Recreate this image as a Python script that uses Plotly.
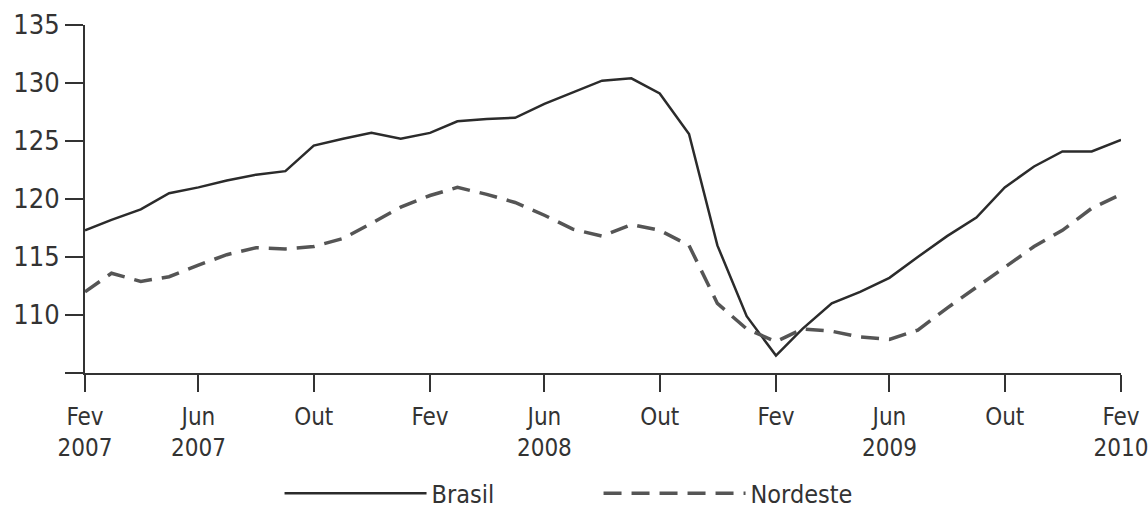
import plotly.graph_objects as go

months = [
    "2007-02-01", "2007-03-01", "2007-04-01", "2007-05-01", "2007-06-01", "2007-07-01",
    "2007-08-01", "2007-09-01", "2007-10-01", "2007-11-01", "2007-12-01", "2008-01-01",
    "2008-02-01", "2008-03-01", "2008-04-01", "2008-05-01", "2008-06-01", "2008-07-01",
    "2008-08-01", "2008-09-01", "2008-10-01", "2008-11-01", "2008-12-01", "2009-01-01",
    "2009-02-01", "2009-03-01", "2009-04-01", "2009-05-01", "2009-06-01", "2009-07-01",
    "2009-08-01", "2009-09-01", "2009-10-01", "2009-11-01", "2009-12-01", "2010-01-01",
    "2010-02-01",
]

brasil = [
    117.3, 118.2, 119.1, 120.5, 121.0, 121.6, 122.1, 122.4, 124.6, 125.2, 125.7, 125.2,
    125.7, 126.7, 126.9, 127.0, 128.2, 129.2, 130.2, 130.4, 129.1, 125.6, 116.0, 109.9,
    106.5, 108.8, 111.0, 112.0, 113.2, 115.0, 116.8, 118.4, 121.0, 122.8, 124.1, 124.1,
    125.1,
]

nordeste = [
    112.0, 113.6, 112.9, 113.3, 114.3, 115.2, 115.8, 115.7, 115.9, 116.6, 117.9, 119.3,
    120.3, 121.0, 120.4, 119.7, 118.6, 117.4, 116.8, 117.8, 117.3, 116.0, 111.0, 108.8,
    107.7, 108.8, 108.6, 108.1, 107.9, 108.7, 110.6, 112.4, 114.1, 115.9, 117.3, 119.2,
    120.4,
]

tick_dates = ["2007-02-01", "2007-06-01", "2007-10-01", "2008-02-01", "2008-06-01",
              "2008-10-01", "2009-02-01", "2009-06-01", "2009-10-01", "2010-02-01"]
tick_labels = ["Fev<br>2007", "Jun<br>2007", "Out", "Fev", "Jun<br>2008",
               "Out", "Fev", "Jun<br>2009", "Out", "Fev<br>2010"]

y_ticks = [105, 110, 115, 120, 125, 130, 135]
y_labels = ["", "110", "115", "120", "125", "130", "135"]

FONT = "DejaVu Sans Condensed, Liberation Sans Narrow, DejaVu Sans, sans-serif"

fig = go.Figure()
fig.add_trace(go.Scatter(x=months, y=brasil, name="Brasil", mode="lines",
                         line=dict(color="#2b2b2b", width=2.5)))
fig.add_trace(go.Scatter(x=months, y=nordeste, name="Nordeste", mode="lines",
                         line=dict(color="#555555", width=3.5, dash="18px,10px")))

fig.update_layout(
    width=1148, height=512,
    margin=dict(l=85, r=27, t=25, b=139, autoexpand=False),
    paper_bgcolor="white", plot_bgcolor="white",
    font=dict(family=FONT, color="#333333", size=24),
    showlegend=True,
    legend=dict(orientation="h", xref="container", x=0.2435, xanchor="left",
                yref="paper", y=-0.28, yanchor="top",
                itemwidth=142, entrywidth=162, entrywidthmode="pixels",
                font=dict(size=25), traceorder="normal"),
    xaxis=dict(
        type="date", range=["2007-02-01", "2010-02-01"],
        tickmode="array", tickvals=tick_dates, ticktext=tick_labels,
        showline=True, linecolor="#333333", linewidth=2,
        ticks="outside", ticklen=17, tickwidth=2, tickcolor="#333333",
        showgrid=False, zeroline=False, tickfont=dict(size=24),
        ticklabelstandoff=4, ticklabeloverflow="allow", automargin=False,
    ),
    yaxis=dict(
        range=[105, 135], tickmode="array", tickvals=y_ticks, ticktext=y_labels,
        showline=True, linecolor="#333333", linewidth=2,
        ticks="outside", ticklen=18, tickwidth=2, tickcolor="#333333",
        showgrid=False, zeroline=False, tickfont=dict(size=27), automargin=False,
    ),
)

fig.write_html("out.html", config={"displayModeBar": False},
               post_script="document.body.style.margin='0';document.body.style.padding='0';")
